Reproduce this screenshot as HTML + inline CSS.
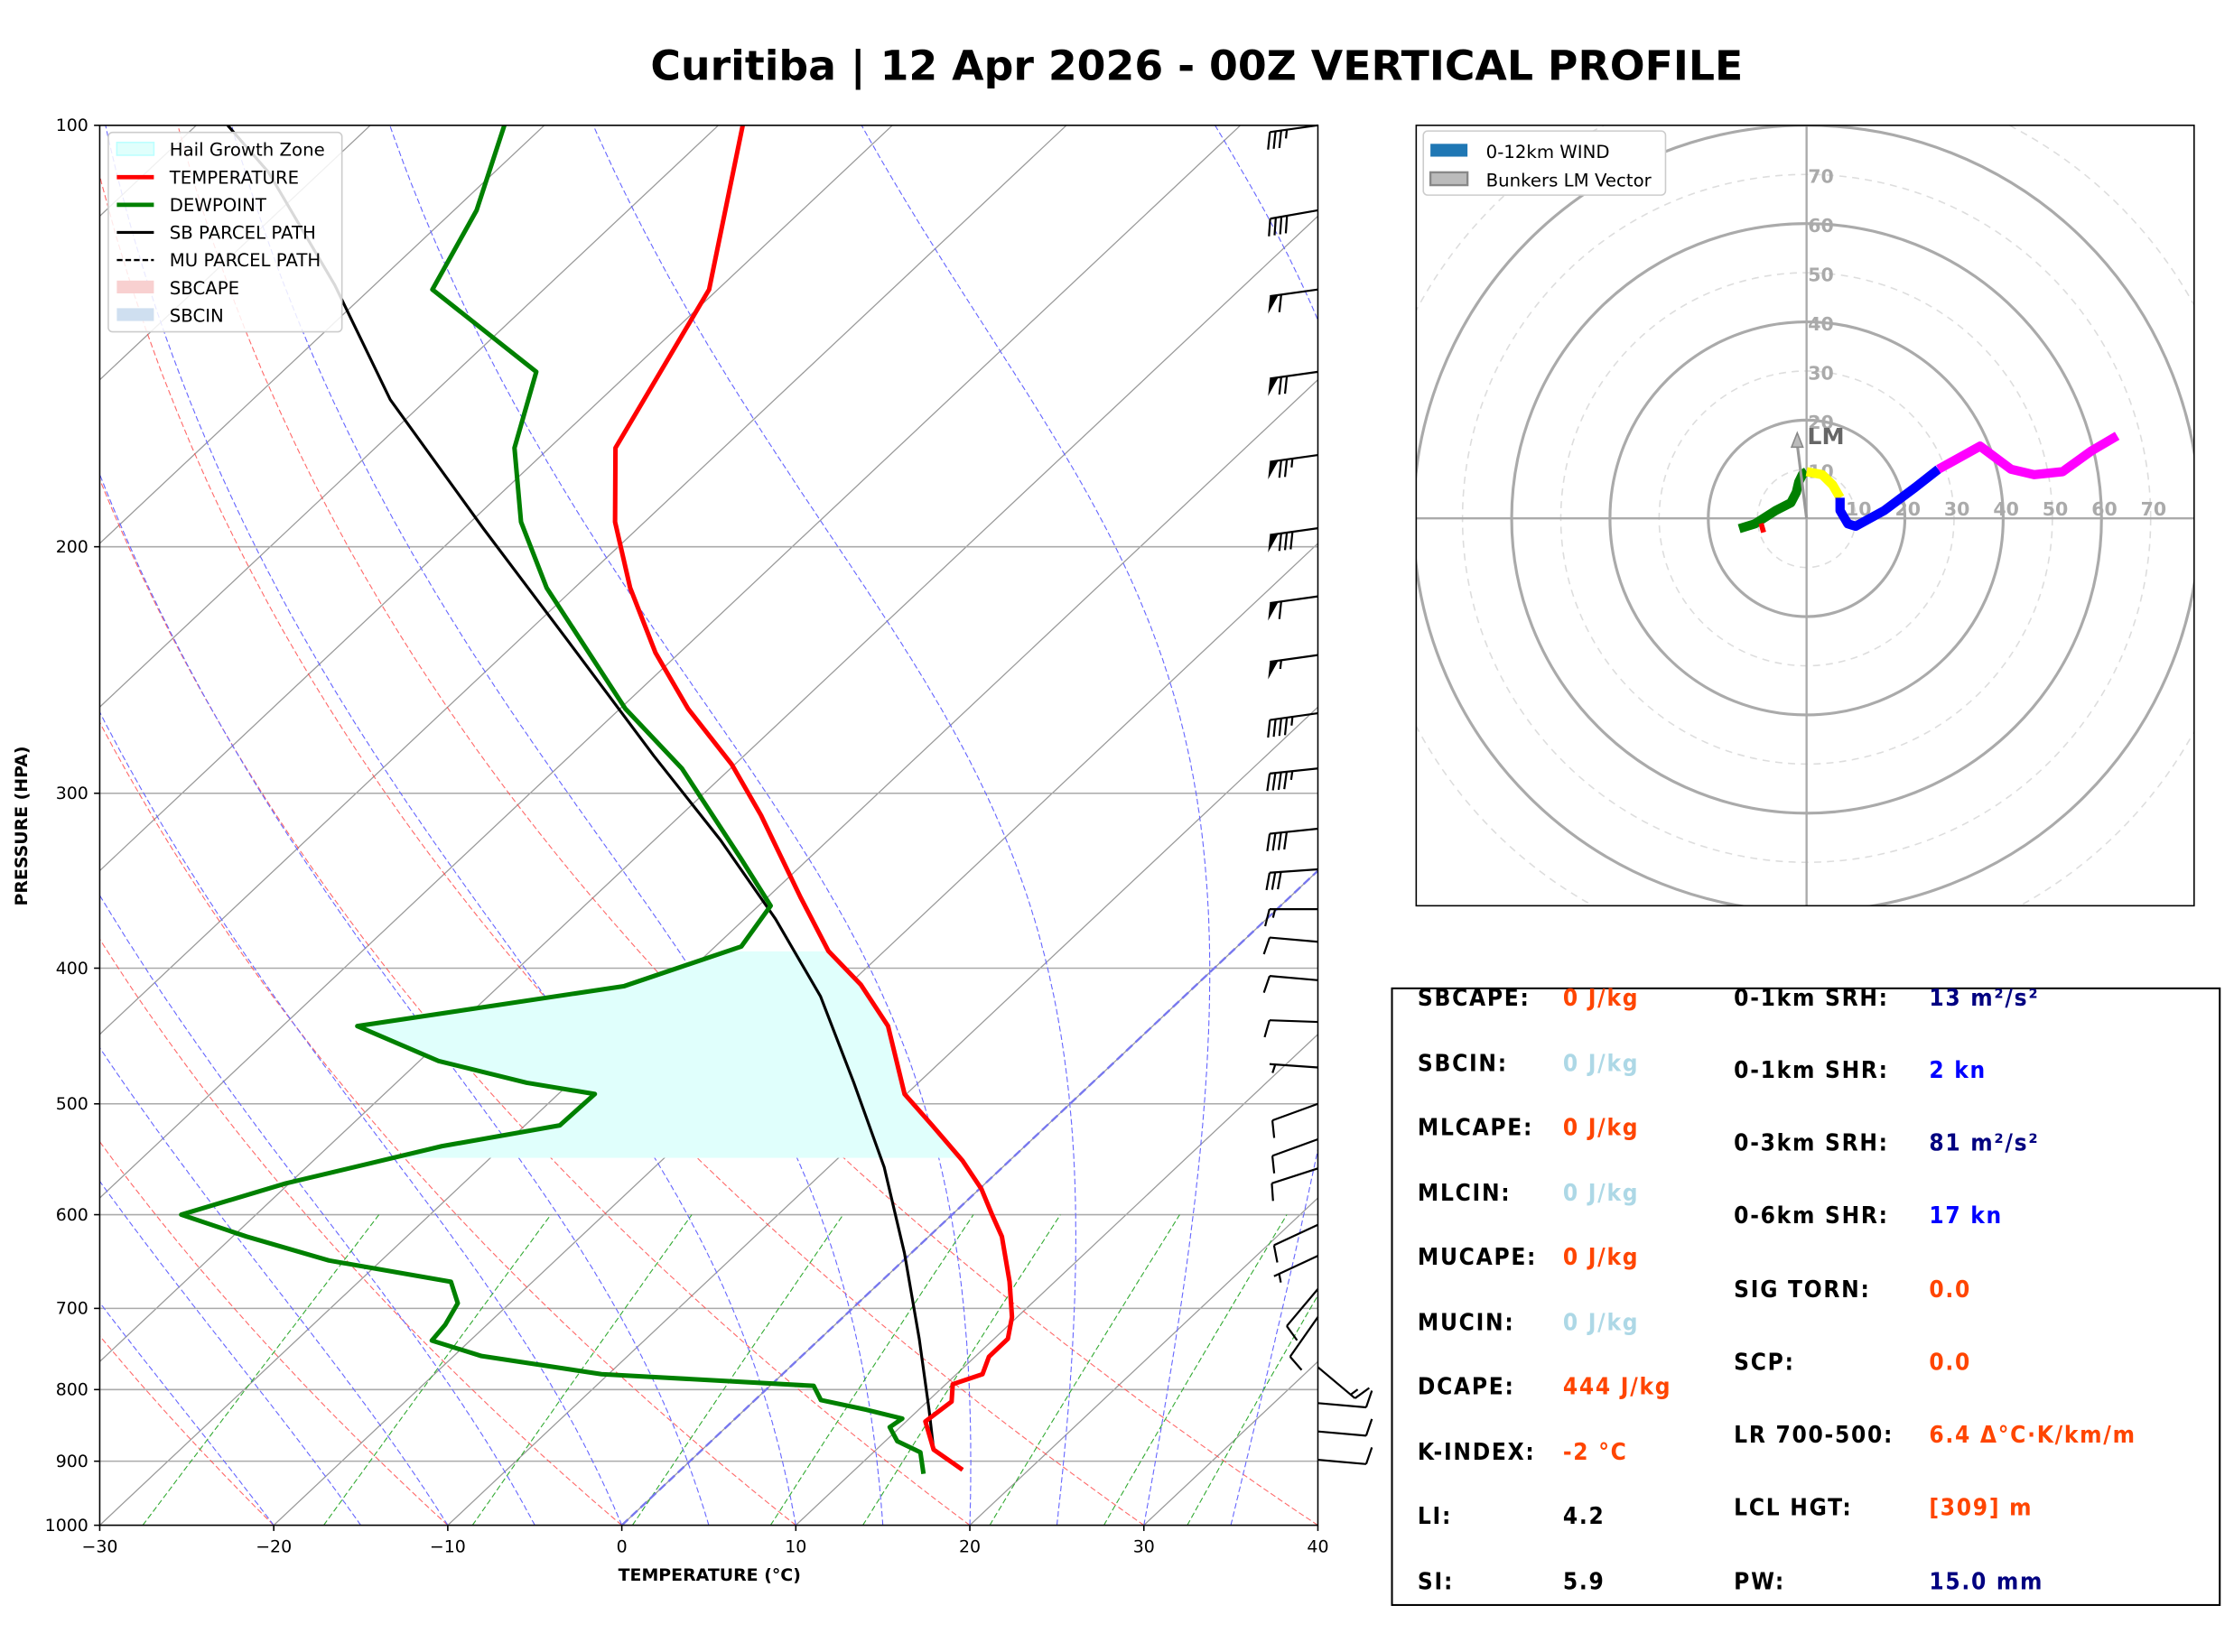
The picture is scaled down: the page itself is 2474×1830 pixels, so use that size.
<!DOCTYPE html>
<html><head><meta charset="utf-8">
<style>
html,body{margin:0;padding:0;background:#fff;}
svg{display:block;font-family:"DejaVu Sans","Liberation Sans",sans-serif;}
.panel text{font-family:"DejaVu Sans Condensed","DejaVu Sans","Liberation Sans",sans-serif;font-weight:bold;font-size:16.5px;letter-spacing:1.1px;}
</style></head>
<body>
<svg id="fig" width="2474" height="1830" viewBox="0 0 1568 1160" preserveAspectRatio="none" xmlns="http://www.w3.org/2000/svg">
<rect width="1568" height="1160" fill="#fff"/>
<text x="840" y="56" text-anchor="middle" font-size="29" font-weight="bold">Curitiba | 12 Apr 2026 - 00Z VERTICAL PROFILE</text>
<defs><clipPath id="skclip"><rect x="70" y="88" width="855" height="983"/></clipPath>
<clipPath id="hgzclip"><rect x="70" y="668" width="855" height="145"/></clipPath>
<clipPath id="hodoclip"><rect x="994" y="88" width="546" height="548"/></clipPath></defs>
<g id="skew"></g>
<g id="hodo"></g>
<g class="panel">
<rect x="977" y="694" width="581" height="433" fill="none" stroke="#000" stroke-width="1.3"/>
<text x="995" y="706">SBCAPE:</text><text x="1097" y="706" fill="#ff4500">0 J/kg</text>
<text x="995" y="752">SBCIN:</text><text x="1097" y="752" fill="#add8e6">0 J/kg</text>
<text x="995" y="797">MLCAPE:</text><text x="1097" y="797" fill="#ff4500">0 J/kg</text>
<text x="995" y="843">MLCIN:</text><text x="1097" y="843" fill="#add8e6">0 J/kg</text>
<text x="995" y="888">MUCAPE:</text><text x="1097" y="888" fill="#ff4500">0 J/kg</text>
<text x="995" y="934">MUCIN:</text><text x="1097" y="934" fill="#add8e6">0 J/kg</text>
<text x="995" y="979">DCAPE:</text><text x="1097" y="979" fill="#ff4500">444 J/kg</text>
<text x="995" y="1025">K-INDEX:</text><text x="1097" y="1025" fill="#ff4500">-2 °C</text>
<text x="995" y="1070">LI:</text><text x="1097" y="1070" fill="#000">4.2</text>
<text x="995" y="1116">SI:</text><text x="1097" y="1116" fill="#000">5.9</text>
<text x="1217" y="706">0-1km SRH:</text><text x="1354" y="706" fill="#000080">13 m²/s²</text>
<text x="1217" y="757">0-1km SHR:</text><text x="1354" y="757" fill="#0000ff">2 kn</text>
<text x="1217" y="808">0-3km SRH:</text><text x="1354" y="808" fill="#000080">81 m²/s²</text>
<text x="1217" y="859">0-6km SHR:</text><text x="1354" y="859" fill="#0000ff">17 kn</text>
<text x="1217" y="911">SIG TORN:</text><text x="1354" y="911" fill="#ff4500">0.0</text>
<text x="1217" y="962">SCP:</text><text x="1354" y="962" fill="#ff4500">0.0</text>
<text x="1217" y="1013">LR 700-500:</text><text x="1354" y="1013" fill="#ff4500">6.4 Δ°C·K/km/m</text>
<text x="1217" y="1064">LCL HGT:</text><text x="1354" y="1064" fill="#ff4500">[309] m</text>
<text x="1217" y="1116">PW:</text><text x="1354" y="1116" fill="#000080">15.0 mm</text>
</g>
</svg>
<script>
// ---- sounding data ----
const tempP = [913,883,843,816,793,780,758,736,710,670,622,600,575,549,518,492,440,411,389,356,311,286,261,238,214,192,170,131,100];
const tempT = [16.2,13.3,11.1,11.4,10.4,11.5,10.8,10.8,9.7,7.4,4.2,2.3,0.1,-2.7,-6.6,-10.1,-15.2,-19.3,-23.2,-28.1,-35.4,-40.2,-46.1,-51.4,-56.8,-61.7,-66.2,-70.5,-78.6];
const dewP = [919,887,871,851,839,827,814,795,780,757,738,719,694,670,647,622,600,570,536,518,492,483,466,440,412,386,361,334,288,261,214,192,170,150,131,115,100];
const dewT = [14.2,12.7,10.7,9.4,9.6,7.0,3.8,2.5,-10.4,-18.4,-22.2,-22.4,-23.0,-24.7,-33.0,-39.2,-44.3,-40.2,-33.5,-28.0,-27.9,-32.5,-38.9,-45.7,-32.8,-28.5,-29.3,-33.9,-42.8,-49.7,-61.6,-67.1,-72.0,-75.4,-86.4,-88.7,-92.3];
const parcelP = [913,883,827,736,639,555,483,419,369,324,282,234,194,157,130,108,100];
const parcelT = [16.2,13.3,10.6,5.7,-0.4,-6.8,-13.7,-20.9,-28.2,-36.2,-45.2,-57.0,-68.9,-82.1,-92.3,-103,-108.2];
const windP = [100,115,131,150,172,194,217,239,263,288,318,340,363,383,408,437,471,500,530,556,610,642,678,710,771,818,857,898];
const windSpd = [35,40,60,70,75,80,60,55,45,45,40,30,15,10,10,10,5,10,10,10,10,5,10,10,15,10,10,10];
const windDir = [262,260,262,262,262,262,262,262,262,264,264,266,270,275,275,272,274,250,250,252,245,245,220,215,130,95,95,95];
const pTicks = [100,200,300,400,500,600,700,800,900,1000];
const tTicks = [-30,-20,-10,0,10,20,30,40];
// hodograph data (kt)
const hodoRedU=[-9.5,-8.5], hodoRedV=[-2.1,-1.8];
const hodoGreenU=[-13.7,-10.5,-6.3,-3.2,-2.1,-1.6,-0.8,0], hodoGreenV=[-2.1,-1.1,1.6,3.2,5.3,7.4,9,9.5];
const hodoYellowU=[0,3.2,5.3,6.8], hodoYellowV=[9.5,8.9,6.8,4.2];
const hodoBlueU=[6.8,6.8,8.4,10,15.8,22.1,26.8], hodoBlueV=[4.2,1.6,-1.1,-1.6,1.6,6.3,10];
const hodoMagU=[26.8,35.3,41.6,46.3,52.1,57.9,63.2], hodoMagV=[10,14.7,10,8.9,9.5,13.7,16.8];
const lmU=-1.9, lmV=17.4;
const ringVals=[10,20,30,40,50,60,70,80,90];

const NS='http://www.w3.org/2000/svg';
function mk(tag,attrs,parent){const e=document.createElementNS(NS,tag);for(const k in attrs)e.setAttribute(k,attrs[k]);if(parent)parent.appendChild(e);return e;}
const X0=70,X1=925,Y0=88,Y1=1071,PXT=855/70,SKEW=1.063;
function yP(p){return Y1-983*Math.log10(1000/p);}
function xT(t,p){return X0+(t+30)*PXT+(Y1-yP(p))*SKEW;}
function pathFrom(ps,ts){return ps.map((p,i)=>(i?'L':'M')+xT(ts[i],p).toFixed(1)+','+yP(p).toFixed(1)).join('');}

const sk=document.getElementById('skew');
const g=mk('g',{'clip-path':'url(#skclip)'},sk);
// isotherms
for(let t=-130;t<=40;t+=10){const l=mk('line',{x1:xT(t,1000),y1:yP(1000),x2:xT(t,100),y2:yP(100),stroke:'#999','stroke-width':0.8},g);

}
// isobars
pTicks.forEach(p=>{const l=mk('line',{x1:X0,y1:yP(p),x2:X1,y2:yP(p),stroke:'#aaa','stroke-width':1},g);

});
// dry adiabats
for(let th=-80;th<=40;th+=10){let d='';for(let p=1000;p>=100;p-=10){const T=(th+273.15)*Math.pow(p/1000,0.286)-273.15;d+=(p==1000?'M':'L')+xT(T,p).toFixed(1)+','+yP(p).toFixed(1);}
const e=mk('path',{d:d,fill:'none',stroke:'#f44','stroke-width':0.7,'stroke-dasharray':'4 2',opacity:0.8},g);

}
// moist adiabats
function es(tc){return 6.112*Math.exp(17.67*tc/(tc+243.5));}
for(let t0=-20;t0<=35;t0+=5){let T=t0+273.15,d='';for(let p=1000;p>=100;p-=2){d+=(p==1000?'M':'L')+xT(T-273.15,p).toFixed(1)+','+yP(p).toFixed(1);
const e=es(T-273.15),rs=0.622*e/(p-e);const dTdp=(287*T+2.5e6*rs)/(p*(1005+2.5e6*2.5e6*rs*0.622/(287*T*T)));T-=dTdp*2;}
const e=mk('path',{d:d,fill:'none',stroke:'#66f','stroke-width':0.7,'stroke-dasharray':'4 2'},g);

}
// mixing ratio
[0.0004,0.001,0.002,0.004,0.007,0.01,0.016,0.024,0.032].forEach(w=>{let d='';for(let p=1000;p>=600;p-=10){const e=w*p/(0.622+w);const a=Math.log(e/6.112);const T=243.5*a/(17.67-a);d+=(p==1000?'M':'L')+xT(T,p).toFixed(1)+','+yP(p).toFixed(1);}
const e=mk('path',{d:d,fill:'none',stroke:'#3a3','stroke-width':0.7,'stroke-dasharray':'4 2'},g);

});
// 0C isotherm
const z=mk('line',{x1:xT(0,1000),y1:yP(1000),x2:xT(0,100),y2:yP(100),stroke:'#77e','stroke-width':1.5,'stroke-dasharray':'6 3'},g);


// hail growth zone
const hg=mk('g',{'clip-path':'url(#hgzclip)'},g);
const rp=dewP.slice().reverse(),rt=dewT.slice().reverse();
const hz=mk('path',{d:pathFrom(tempP,tempT)+pathFrom(rp,rt).replace('M','L')+'Z',fill:'#e0fffc',stroke:'none'},hg);


// lines
const pp=mk('path',{d:pathFrom(parcelP,parcelT),fill:'none',stroke:'#000','stroke-width':2},g);


const dl=mk('path',{d:pathFrom(dewP,dewT),fill:'none',stroke:'#008000','stroke-width':3.2,'stroke-linejoin':'round'},g);


const tl=mk('path',{d:pathFrom(tempP,tempT),fill:'none',stroke:'#f00','stroke-width':3.2,'stroke-linejoin':'round'},g);


// frame
mk('rect',{x:X0,y:Y0,width:X1-X0,height:Y1-Y0,fill:'none',stroke:'#000','stroke-width':1},sk);
// ticks
pTicks.forEach(p=>{const y=yP(p);mk('line',{x1:X0-4,y1:y,x2:X0,y2:y,stroke:'#000'},sk);
const t=mk('text',{x:X0-8,y:y+4,'text-anchor':'end','font-size':12},sk);t.textContent=p;

});
tTicks.forEach(v=>{const x=X0+(v+30)*PXT;mk('line',{x1:x,y1:Y1,x2:x,y2:Y1+4,stroke:'#000'},sk);
const t=mk('text',{x:x,y:Y1+19,'text-anchor':'middle','font-size':12},sk);t.textContent=String(v).replace('-','−');

});
let t=mk('text',{x:498,y:1110,'text-anchor':'middle','font-size':12,'font-weight':'bold'},sk);t.textContent='TEMPERATURE (°C)';


t=mk('text',{x:19,y:580,'text-anchor':'middle','font-size':12,'font-weight':'bold',transform:'rotate(-90 19 580)'},sk);t.textContent='PRESSURE (HPA)';


// wind barbs (southern hemisphere: features on the flipped side)
windP.forEach((p,i)=>{const y=yP(p),bx=X1;const a=windDir[i]*Math.PI/180;
const ux=Math.sin(a),uy=-Math.cos(a);const L=34;const ex=bx+ux*L,ey=y+uy*L;
const bg=mk('g',{},sk);


mk('line',{x1:bx,y1:y,x2:ex,y2:ey,stroke:'#000','stroke-width':1.4},bg);
const px=uy,py=-ux; // flipped perpendicular
let s=Math.round(windSpd[i]/5)*5,pos=0;
while(s>=50){const ax=ex-ux*pos,ay=ey-uy*pos,bx2=ex-ux*(pos+6),by2=ey-uy*(pos+6);
mk('polygon',{points:`${ax},${ay} ${ax+px*12+ux*3},${ay+py*12+uy*3} ${bx2},${by2}`,fill:'#000'},bg);s-=50;pos+=8;}
while(s>=10){const ax=ex-ux*pos,ay=ey-uy*pos;mk('line',{x1:ax,y1:ay,x2:ax+px*12+ux*3,y2:ay+py*12+uy*3,stroke:'#000','stroke-width':1.4},bg);s-=10;pos+=4;}
if(s>=5){if(pos==0)pos=4;const ax=ex-ux*pos,ay=ey-uy*pos;mk('line',{x1:ax,y1:ay,x2:ax+px*6+ux*1.5,y2:ay+py*6+uy*1.5,stroke:'#000','stroke-width':1.4},bg);}
});
// legend
const lg=mk('g',{},sk);


mk('rect',{x:76,y:93,width:164,height:140,rx:3,fill:'#fff','fill-opacity':0.85,stroke:'#ccc'},lg);
const items=[['Hail Growth Zone','patch','#e0fffc'],['TEMPERATURE','line','#f00',3],['DEWPOINT','line','#008000',3],['SB PARCEL PATH','line','#000',2],['MU PARCEL PATH','dash','#000',1.5],['SBCAPE','patch','#f8d0d0'],['SBCIN','patch','#cfdff0']];
items.forEach((it,k)=>{const y=105+k*19.4;
if(it[1]=='patch')mk('rect',{x:82,y:y-5,width:26,height:9,fill:it[2],stroke:it[0]=='Hail Growth Zone'?'#bff':'none'},lg);
else mk('line',{x1:82,y1:y,x2:108,y2:y,stroke:it[2],'stroke-width':it[3],'stroke-dasharray':it[1]=='dash'?'4 2':'none'},lg);
const tt=mk('text',{x:119,y:y+4.5,'font-size':12.5},lg);tt.textContent=it[0];

});

// ---- hodograph ----
const hd=document.getElementById('hodo');
const CX=1268,CY=364,K=3.45;
const hg2=mk('g',{'clip-path':'url(#hodoclip)'},hd);
ringVals.forEach(r=>{const c=mk('circle',{cx:CX,cy:CY,r:r*K,fill:'none',stroke:r%20==0?'#aaa':'#ddd','stroke-width':r%20==0?2:1,'stroke-dasharray':r%20==0?'none':'5 4'},hg2);

});
mk('line',{x1:994,y1:CY,x2:1540,y2:CY,stroke:'#aaa','stroke-width':1.5},hg2);
mk('line',{x1:CX,y1:88,x2:CX,y2:636,stroke:'#aaa','stroke-width':1.5},hg2);
for(let r=10;r<=70;r+=10){let a=mk('text',{x:CX+r*K-7,y:CY-2,'font-size':13,'font-weight':'bold',fill:'#aaa'},hg2);a.textContent=r;


a=mk('text',{x:CX+1,y:CY-r*K+6,'font-size':13,'font-weight':'bold',fill:'#aaa'},hg2);a.textContent=r;

}
function hpath(us,vs){return us.map((u,i)=>(i?'L':'M')+(CX+u*K).toFixed(1)+','+(CY-vs[i]*K).toFixed(1)).join('');}
[[hodoGreenU,hodoGreenV,'#008000','hodo-segment-green'],[hodoRedU,hodoRedV,'#f00','hodo-segment-red'],[hodoYellowU,hodoYellowV,'#ff0','hodo-segment-yellow'],[hodoBlueU,hodoBlueV,'#00f','hodo-segment-blue'],[hodoMagU,hodoMagV,'#f0f','hodo-segment-magenta']].forEach(s=>{
const e=mk('path',{d:hpath(s[0],s[1]),fill:'none',stroke:s[2],'stroke-width':6.5,'stroke-linejoin':'round'},hg2);

});
const lmx=CX+lmU*K,lmy=CY-lmV*K;
const lm=mk('g',{},hg2);


mk('line',{x1:CX,y1:CY,x2:lmx,y2:lmy+8,stroke:'#999','stroke-width':2},lm);
mk('polygon',{points:`${lmx},${lmy} ${lmx-4},${lmy+10} ${lmx+4},${lmy+10}`,fill:'#bbb',stroke:'#888'},lm);
t=mk('text',{x:lmx+7,y:lmy+8,'font-size':16,'font-weight':'bold',fill:'#666'},hd);t.textContent='LM';


mk('rect',{x:994,y:88,width:546,height:548,fill:'none',stroke:'#000','stroke-width':1},hd);
const hl=mk('g',{},hd);


mk('rect',{x:999,y:92,width:170,height:45,rx:3,fill:'#fff',stroke:'#ccc'},hl);
mk('rect',{x:1004,y:101,width:26,height:9,fill:'#1f77b4'},hl);
mk('rect',{x:1004,y:121,width:26,height:9,fill:'#bbb',stroke:'#888','stroke-width':1.5},hl);
t=mk('text',{x:1043,y:111,'font-size':12.5},hl);t.textContent='0-12km WIND';


t=mk('text',{x:1043,y:131,'font-size':12.5},hl);t.textContent='Bunkers LM Vector';


</script>
</body></html>
